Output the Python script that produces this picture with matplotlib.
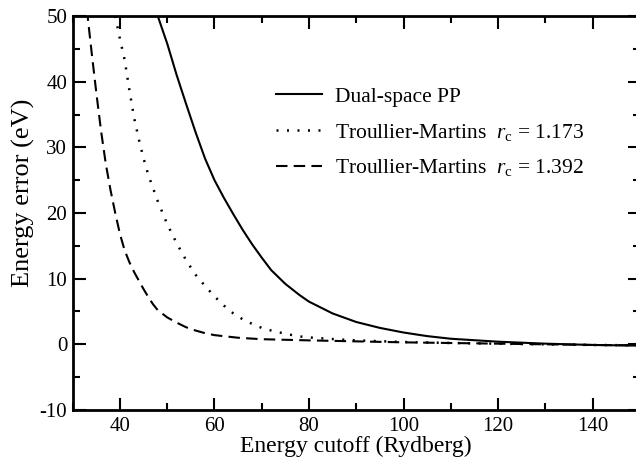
import matplotlib
matplotlib.use("Agg")
import matplotlib.pyplot as plt
from matplotlib.ticker import MultipleLocator

plt.rcParams['font.family'] = ['Liberation Serif', 'DejaVu Serif']
plt.rcParams['mathtext.fontset'] = 'custom'
plt.rcParams['mathtext.rm'] = 'Liberation Serif'
plt.rcParams['mathtext.it'] = 'Liberation Serif:italic'
plt.rcParams['axes.unicode_minus'] = False

# Data
dual_x = [48, 50, 52, 54, 56, 58, 60, 62, 64, 66, 68, 70, 72, 75, 78, 80, 85, 90, 95, 100,
          105, 110, 120, 130, 140, 150]
dual_y = [50, 45.8, 41, 36.6, 32.3, 28.3, 25, 22.3, 19.8, 17.4, 15.2, 13.2, 11.3, 9.2, 7.5, 6.5,
          4.7, 3.4, 2.5, 1.8, 1.25, 0.85, 0.4, 0.1, -0.1, -0.2]

tm1_x = [39, 40, 41, 42, 43, 44, 45, 46, 48, 50, 52, 54, 56, 58, 60, 62, 64, 66, 68, 70, 72, 75,
         78, 80, 85, 90, 100, 110, 120, 130, 140, 150]
tm1_y = [50, 46.5, 43.3, 38.7, 34.5, 31.2, 28.3, 25.8, 21.8, 18.3, 15.4, 12.8, 10.6, 8.9, 7.3,
         5.9, 4.7, 3.8, 3.1, 2.5, 2.1, 1.6, 1.2, 1.05, 0.8, 0.6, 0.35, 0.2, 0.1, 0.0, -0.1, -0.15]

tm2_x = [33, 34, 35, 36, 37, 38, 39, 40, 41, 42, 43, 44, 45, 46, 47, 48, 50, 52, 54, 56, 58, 60,
         65, 70, 80, 90, 100, 110, 120, 130, 140, 150]
tm2_y = [51, 44.5, 38.3, 32.5, 27.5, 23.5, 20, 16.8, 14.3, 12.5, 11, 9.7, 8.4, 7.2, 6.1, 5.2,
         4.1, 3.3, 2.6, 2.1, 1.7, 1.4, 1.0, 0.78, 0.6, 0.45, 0.3, 0.2, 0.1, 0.0, -0.1, -0.15]

labels = ["Dual-space PP",
          r"Troullier-Martins  $r_\mathrm{c}$ = 1.173",
          r"Troullier-Martins  $r_\mathrm{c}$ = 1.392"]

fig = plt.figure(figsize=(6.36, 4.59), dpi=100)
ax = fig.add_axes([0.1143, 0.1068, 0.8917, 0.8583])

ax.plot(dual_x, dual_y, color='black', lw=1.5, ls='-', label=labels[0])
ax.plot(tm1_x, tm1_y, color='black', lw=1.8, ls=(0, (0.8, 3.4)), label=labels[1])
ax.plot(tm2_x, tm2_y, color='black', lw=1.5, ls=(0, (5.5, 3)), label=labels[2])

ax.set_xlim(30, 150)
ax.set_ylim(-10, 50)
ax.xaxis.set_major_locator(MultipleLocator(20))
ax.xaxis.set_minor_locator(MultipleLocator(10))
ax.yaxis.set_major_locator(MultipleLocator(10))
ax.yaxis.set_minor_locator(MultipleLocator(5))
ax.tick_params(which='both', direction='in', top=True, right=True, width=1.5, labelsize=15)
ax.tick_params(which='major', length=9)
ax.tick_params(which='minor', length=5)
ax.tick_params(axis='x', which='major', pad=5)
ax.tick_params(axis='y', which='major', pad=4)
for s in ax.spines.values():
    s.set_linewidth(2)

ax.set_xlabel("Energy cutoff (Rydberg)", fontsize=17, labelpad=0)
ax.set_ylabel("Energy error (eV)", fontsize=19)
ax.yaxis.set_label_coords(-0.066, 0.55)

leg = ax.legend(loc='upper left', bbox_to_anchor=(0.344, 0.842), frameon=False,
                fontsize=15.5, handlelength=2.1, handletextpad=0.6, labelspacing=0.68,
                borderaxespad=0.0)

fig.savefig("out.png", dpi=100)
